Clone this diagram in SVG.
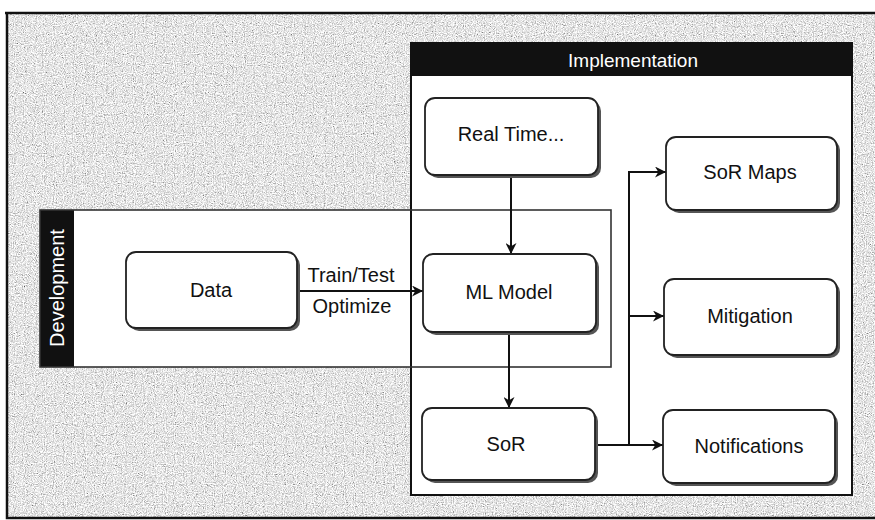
<svg xmlns="http://www.w3.org/2000/svg" width="875" height="520" viewBox="0 0 875 520">
<defs>
<filter id="noise" x="0" y="0" width="100%" height="100%">
<feTurbulence type="fractalNoise" baseFrequency="0.9" numOctaves="2" seed="3"/>
<feColorMatrix type="matrix" values="0.8 0.8 0.8 0 -0.42 0.8 0.8 0.8 0 -0.42 0.8 0.8 0.8 0 -0.42 0 0 0 0 1"/>
</filter>
<marker id="arr" viewBox="0 0 10 10" refX="10" refY="5" markerWidth="11" markerHeight="11" markerUnits="userSpaceOnUse" orient="auto">
<path d="M0,0 L10,5 L0,10 L3,5 Z" fill="#111"/>
</marker>
<style>
text{font-family:"Liberation Sans",Arial,sans-serif;fill:#111;}
.lbl{font-size:20px;text-anchor:middle;dominant-baseline:central;}
.node{fill:#fff;stroke:#222;stroke-width:1.8;}
.shadow{fill:#555;}
.edge{fill:none;stroke:#111;stroke-width:2;}
.hdr{font-size:19px;fill:#fff;text-anchor:middle;dominant-baseline:central;}
</style>
</defs>
<rect x="0" y="0" width="875" height="520" fill="#fff"/>
<rect x="8" y="14" width="867" height="503" filter="url(#noise)"/>
<path d="M5,13 H875 M7,13 V518 H875" stroke="#111" stroke-width="2.5" fill="none"/>

<g id="implementation">
<rect x="411" y="43" width="441" height="452" fill="#fff"/>
</g>
<g id="development">
<rect x="40" y="210" width="571" height="157" fill="#fff"/>
<rect x="40" y="210" width="34" height="157" fill="#111"/>
<text class="hdr" transform="translate(57,288) rotate(-90)" style="font-size:20px">Development</text>
</g>
<rect x="411" y="43" width="441" height="452" fill="none" stroke="#111" stroke-width="2"/>
<rect x="411" y="43" width="441" height="33" fill="#111"/>
<text class="hdr" x="633" y="60">Implementation</text>
<rect x="40" y="210" width="571" height="157" fill="none" stroke="#333" stroke-width="1.6"/>

<g id="connectors">
<path class="edge" d="M511,175 V254" marker-end="url(#arr)"/>
<path class="edge" d="M509,332 V408" marker-end="url(#arr)"/>
<path class="edge" d="M297,291 H423" marker-end="url(#arr)"/>
<path class="edge" d="M595,445 H663" marker-end="url(#arr)"/>
<path class="edge" d="M629,445 V172 H666" marker-end="url(#arr)"/>
<path class="edge" d="M629,316 H664" marker-end="url(#arr)"/>
<text x="351" y="275" style="font-size:20px;text-anchor:middle;dominant-baseline:central">Train/Test</text>
<text x="352" y="306" style="font-size:20px;text-anchor:middle;dominant-baseline:central">Optimize</text>
</g>

<g id="data">
<rect class="shadow" x="129" y="255" width="171" height="76" rx="10"/>
<rect class="node" x="126" y="252" width="171" height="76" rx="10"/>
<text class="lbl" x="211" y="290">Data</text>
</g>
<g id="real-time">
<rect class="shadow" x="428" y="101" width="173" height="77" rx="10"/>
<rect class="node" x="425" y="98" width="173" height="77" rx="10"/>
<text class="lbl" x="511" y="134">Real Time...</text>
</g>
<g id="ml-model">
<rect class="shadow" x="426" y="257" width="173" height="78" rx="10"/>
<rect class="node" x="423" y="254" width="173" height="78" rx="10"/>
<text class="lbl" x="509" y="292">ML Model</text>
</g>
<g id="sor">
<rect class="shadow" x="425" y="411" width="173" height="72" rx="10"/>
<rect class="node" x="422" y="408" width="173" height="72" rx="10"/>
<text class="lbl" x="506" y="444">SoR</text>
</g>
<g id="sor-maps">
<rect class="shadow" x="669" y="140" width="171" height="73" rx="10"/>
<rect class="node" x="666" y="137" width="171" height="73" rx="10"/>
<text class="lbl" x="750" y="172">SoR Maps</text>
</g>
<g id="mitigation">
<rect class="shadow" x="667" y="282" width="173" height="76" rx="10"/>
<rect class="node" x="664" y="279" width="173" height="76" rx="10"/>
<text class="lbl" x="750" y="316">Mitigation</text>
</g>
<g id="notifications">
<rect class="shadow" x="666" y="413" width="172" height="73" rx="10"/>
<rect class="node" x="663" y="410" width="172" height="73" rx="10"/>
<text class="lbl" x="749" y="446">Notifications</text>
</g>
</svg>
